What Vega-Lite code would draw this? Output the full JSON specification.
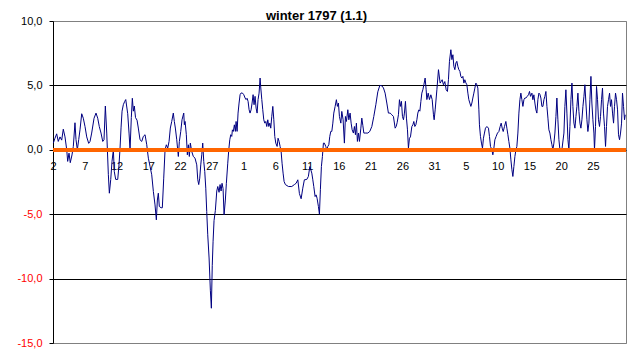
{
  "$schema": "https://vega.github.io/schema/vega-lite/v6.json",
  "width": 573,
  "height": 322,
  "autosize": {"type": "none"},
  "padding": {"left": 53, "top": 21, "right": 15, "bottom": 17},
  "background": "white",
  "config": {"font": "Liberation Sans", "view": {"stroke": "#808080", "strokeWidth": 1}},
  "title": {"text": "winter 1797 (1.1)", "fontSize": 13, "fontWeight": "bold", "font": "Liberation Sans", "color": "black", "anchor": "middle", "frame": "group", "offset": -18, "baseline": "alphabetic", "dx": -23},
  "data": {"values": [
    {"day":0.05,"temp":0.52},{"day":0.31,"temp":0.9},{"day":0.58,"temp":1.24},{"day":0.83,"temp":0.65},{"day":1.10,"temp":1.0},{"day":1.37,"temp":0.75},{"day":1.62,"temp":1.6},{"day":1.89,"temp":1.0},{"day":2.16,"temp":0},{"day":2.31,"temp":-0.9},{"day":2.52,"temp":-0.26},{"day":2.72,"temp":-1.0},{"day":2.99,"temp":-0.4},{"day":3.20,"temp":0.26},{"day":3.46,"temp":2.1},{"day":3.62,"temp":0.8},{"day":3.83,"temp":0},{"day":4.05,"temp":0.8},{"day":4.25,"temp":1.55},{"day":4.52,"temp":2.8},{"day":4.77,"temp":2.45},{"day":5.04,"temp":1.8},{"day":5.31,"temp":1.0},{"day":5.62,"temp":0.5},{"day":5.83,"temp":0.65},{"day":6.09,"temp":1.3},{"day":6.46,"temp":2.45},{"day":6.77,"temp":2.85},{"day":7.04,"temp":2.45},{"day":7.29,"temp":1.8},{"day":7.56,"temp":1.3},{"day":7.83,"temp":0.65},{"day":8.03,"temp":0.78},{"day":8.24,"temp":3.4},{"day":8.46,"temp":1.3},{"day":8.55,"temp":0.13},{"day":8.71,"temp":-1.9},{"day":8.87,"temp":-3.37},{"day":9.09,"temp":-2.3},{"day":9.29,"temp":-0.9},{"day":9.50,"temp":0},{"day":9.65,"temp":-1.7},{"day":9.87,"temp":-2.3},{"day":10.19,"temp":-2.3},{"day":10.39,"temp":-1.17},{"day":10.55,"temp":0.1},{"day":10.71,"temp":1.7},{"day":10.87,"temp":3.0},{"day":11.07,"temp":3.5},{"day":11.29,"temp":3.76},{"day":11.45,"temp":3.9},{"day":11.76,"temp":2.8},{"day":11.97,"temp":1.3},{"day":12.13,"temp":0},{"day":12.33,"temp":2.5},{"day":12.49,"temp":4.0},{"day":12.65,"temp":3.0},{"day":12.80,"temp":3.4},{"day":12.99,"temp":2.5},{"day":13.23,"temp":2.3},{"day":13.43,"temp":1.69},{"day":13.70,"temp":0.78},{"day":13.97,"temp":0.65},{"day":14.22,"temp":1.04},{"day":14.49,"temp":1.17},{"day":14.76,"temp":0.39},{"day":14.85,"temp":0},{"day":15.01,"temp":-0.65},{"day":15.28,"temp":-1.3},{"day":15.54,"temp":-1.94},{"day":15.80,"temp":-3.24},{"day":16.06,"temp":-4.28},{"day":16.27,"temp":-5.44},{"day":16.43,"temp":-3.9},{"day":16.58,"temp":-3.37},{"day":16.74,"temp":-4.4},{"day":17.01,"temp":-4.5},{"day":17.21,"temp":-4.5},{"day":17.43,"temp":-2.2},{"day":17.64,"temp":0},{"day":17.84,"temp":0.39},{"day":18.06,"temp":0.13},{"day":18.27,"temp":0.65},{"day":18.47,"temp":1.69},{"day":18.69,"temp":2.2},{"day":18.94,"temp":2.85},{"day":19.10,"temp":2.2},{"day":19.26,"temp":1.69},{"day":19.48,"temp":0.78},{"day":19.73,"temp":-0.52},{"day":19.89,"temp":0.65},{"day":20.11,"temp":1.43},{"day":20.31,"temp":2.33},{"day":20.58,"temp":2.85},{"day":20.68,"temp":1.95},{"day":20.79,"temp":2.2},{"day":20.99,"temp":1.17},{"day":21.15,"temp":-0.39},{"day":21.31,"temp":0.39},{"day":21.46,"temp":-0.52},{"day":21.62,"temp":0.52},{"day":21.84,"temp":-0.13},{"day":22.09,"temp":-0.52},{"day":22.36,"temp":-0.65},{"day":22.63,"temp":-1.17},{"day":22.79,"temp":-2.33},{"day":22.94,"temp":-2.7},{"day":23.10,"temp":-2.2},{"day":23.26,"temp":-1.17},{"day":23.42,"temp":-0.39},{"day":23.57,"temp":0.52},{"day":23.73,"temp":-0.9},{"day":23.89,"temp":-1.69},{"day":24.05,"temp":-2.98},{"day":24.20,"temp":-4.8},{"day":24.36,"temp":-6.6},{"day":24.57,"temp":-8.4},{"day":24.77,"temp":-10.9},{"day":24.93,"temp":-12.3},{"day":25.07,"temp":-9.0},{"day":25.20,"temp":-7.1},{"day":25.35,"temp":-5.5},{"day":25.56,"temp":-4.7},{"day":25.78,"temp":-3.2},{"day":25.94,"temp":-2.85},{"day":26.14,"temp":-3.3},{"day":26.30,"temp":-2.7},{"day":26.46,"temp":-3.2},{"day":26.61,"temp":-2.6},{"day":26.77,"temp":-3.0},{"day":26.93,"temp":-5.05},{"day":27.13,"temp":-3.9},{"day":27.29,"temp":-2.6},{"day":27.51,"temp":-1.04},{"day":27.67,"temp":0},{"day":27.83,"temp":0.78},{"day":27.98,"temp":1.17},{"day":28.14,"temp":1.04},{"day":28.24,"temp":1.55},{"day":28.39,"temp":1.43},{"day":28.55,"temp":1.94},{"day":28.71,"temp":1.43},{"day":28.82,"temp":2.2},{"day":28.98,"temp":1.43},{"day":29.13,"temp":2.85},{"day":29.29,"temp":3.63},{"day":29.45,"temp":4.28},{"day":29.61,"temp":4.41},{"day":29.81,"temp":4.41},{"day":30.03,"temp":4.28},{"day":30.24,"temp":4.02},{"day":30.39,"temp":3.9},{"day":30.55,"temp":4.0},{"day":30.71,"temp":3.76},{"day":30.87,"temp":3.11},{"day":31.02,"temp":2.85},{"day":31.18,"temp":3.1},{"day":31.34,"temp":3.63},{"day":31.50,"temp":4.28},{"day":31.65,"temp":3.5},{"day":31.81,"temp":4.15},{"day":31.97,"temp":3.24},{"day":32.13,"temp":2.85},{"day":32.28,"temp":3.9},{"day":32.44,"temp":4.4},{"day":32.60,"temp":5.57},{"day":32.71,"temp":4.8},{"day":32.87,"temp":3.9},{"day":33.02,"temp":3.11},{"day":33.18,"temp":2.33},{"day":33.34,"temp":2.07},{"day":33.50,"temp":2.2},{"day":33.65,"temp":1.81},{"day":33.81,"temp":2.33},{"day":33.97,"temp":1.81},{"day":34.13,"temp":2.07},{"day":34.28,"temp":1.68},{"day":34.44,"temp":2.6},{"day":34.60,"temp":3.37},{"day":34.76,"temp":2.33},{"day":34.91,"temp":1.04},{"day":35.07,"temp":0.52},{"day":35.28,"temp":0.26},{"day":35.43,"temp":0.9},{"day":35.59,"temp":0.65},{"day":35.75,"temp":0.26},{"day":35.91,"temp":-0.13},{"day":36.06,"temp":-1.04},{"day":36.22,"temp":-1.81},{"day":36.38,"temp":-2.46},{"day":36.58,"temp":-2.7},{"day":37.06,"temp":-2.85},{"day":37.59,"temp":-2.85},{"day":38.00,"temp":-2.7},{"day":38.27,"temp":-2.6},{"day":38.54,"temp":-2.33},{"day":38.79,"temp":-3.4},{"day":39.06,"temp":-3.8},{"day":39.32,"temp":-2.98},{"day":39.57,"temp":-2.33},{"day":39.95,"temp":-2.3},{"day":40.20,"temp":-2.07},{"day":40.43,"temp":-1.3},{"day":40.58,"temp":-1.55},{"day":40.74,"temp":-1.81},{"day":40.90,"temp":-2.33},{"day":41.05,"temp":-2.85},{"day":41.26,"temp":-3.63},{"day":41.42,"temp":-3.5},{"day":41.57,"temp":-3.76},{"day":41.78,"temp":-4.4},{"day":41.94,"temp":-5.0},{"day":42.09,"temp":-3.1},{"day":42.25,"temp":-1.3},{"day":42.41,"temp":-0.52},{"day":42.57,"temp":0.52},{"day":42.72,"temp":0.52},{"day":42.94,"temp":0.26},{"day":43.10,"temp":0},{"day":43.26,"temp":0.26},{"day":43.42,"temp":0.39},{"day":43.57,"temp":1.04},{"day":43.73,"temp":1.43},{"day":43.89,"temp":1.43},{"day":44.05,"temp":2.07},{"day":44.20,"temp":2.85},{"day":44.41,"temp":3.37},{"day":44.61,"temp":3.89},{"day":44.77,"temp":3.37},{"day":44.93,"temp":3.63},{"day":45.09,"temp":2.59},{"day":45.31,"temp":2.07},{"day":45.46,"temp":2.98},{"day":45.67,"temp":2.33},{"day":45.87,"temp":0.52},{"day":46.03,"temp":2.59},{"day":46.19,"temp":2.2},{"day":46.41,"temp":3.11},{"day":46.57,"temp":2.33},{"day":46.77,"temp":2.85},{"day":46.93,"temp":2.07},{"day":47.09,"temp":1.55},{"day":47.29,"temp":1.3},{"day":47.45,"temp":1.81},{"day":47.61,"temp":1.17},{"day":47.76,"temp":2.07},{"day":47.92,"temp":0.65},{"day":48.08,"temp":1.3},{"day":48.24,"temp":0.65},{"day":48.46,"temp":1.68},{"day":48.61,"temp":2.46},{"day":48.77,"temp":1.9},{"day":48.93,"temp":1.3},{"day":49.24,"temp":1.3},{"day":49.56,"temp":1.3},{"day":49.87,"temp":1.43},{"day":50.19,"temp":1.81},{"day":50.50,"temp":2.59},{"day":50.82,"temp":3.5},{"day":51.13,"temp":4.5},{"day":51.45,"temp":5.0},{"day":51.76,"temp":4.97},{"day":52.02,"temp":4.8},{"day":52.28,"temp":4.4},{"day":52.55,"temp":3.63},{"day":52.80,"temp":2.85},{"day":53.07,"temp":2.85},{"day":53.34,"temp":2.72},{"day":53.59,"temp":2.59},{"day":53.86,"temp":1.68},{"day":54.02,"temp":1.81},{"day":54.17,"temp":2.1},{"day":54.38,"temp":2.72},{"day":54.54,"temp":3.89},{"day":54.69,"temp":3.37},{"day":54.85,"temp":3.76},{"day":55.01,"temp":2.59},{"day":55.17,"temp":2.33},{"day":55.32,"temp":2.85},{"day":55.48,"temp":3.76},{"day":55.64,"temp":2.46},{"day":55.80,"temp":1.55},{"day":55.95,"temp":0.13},{"day":56.11,"temp":0.9},{"day":56.27,"temp":1.0},{"day":56.49,"temp":1.81},{"day":56.65,"temp":1.94},{"day":56.80,"temp":2.2},{"day":56.96,"temp":1.81},{"day":57.12,"temp":1.94},{"day":57.28,"temp":2.33},{"day":57.43,"temp":2.85},{"day":57.59,"temp":3.1},{"day":57.75,"temp":3.0},{"day":57.91,"temp":3.76},{"day":58.06,"temp":4.4},{"day":58.22,"temp":4.66},{"day":58.38,"temp":5.05},{"day":58.58,"temp":5.57},{"day":58.74,"temp":4.66},{"day":58.85,"temp":3.9},{"day":59.06,"temp":4.4},{"day":59.26,"temp":3.9},{"day":59.48,"temp":4.27},{"day":59.69,"temp":3.9},{"day":59.89,"temp":2.72},{"day":60.00,"temp":2.33},{"day":60.16,"temp":3.1},{"day":60.43,"temp":4.66},{"day":60.68,"temp":6.22},{"day":60.94,"temp":5.18},{"day":61.10,"temp":5.3},{"day":61.26,"temp":5.44},{"day":61.46,"temp":5.05},{"day":61.68,"temp":5.3},{"day":61.89,"temp":4.66},{"day":62.09,"temp":4.53},{"day":62.25,"temp":5.44},{"day":62.41,"temp":6.87},{"day":62.63,"temp":7.77},{"day":62.79,"temp":7.0},{"day":62.95,"temp":7.38},{"day":63.10,"temp":6.48},{"day":63.26,"temp":6.22},{"day":63.42,"temp":6.74},{"day":63.57,"temp":6.87},{"day":63.73,"temp":6.48},{"day":63.89,"temp":6.22},{"day":64.05,"temp":6.09},{"day":64.20,"temp":5.7},{"day":64.36,"temp":5.57},{"day":64.52,"temp":5.7},{"day":64.68,"temp":5.18},{"day":64.83,"temp":5.44},{"day":64.99,"temp":5.2},{"day":65.15,"temp":5.05},{"day":65.31,"temp":4.4},{"day":65.46,"temp":3.89},{"day":65.62,"temp":3.63},{"day":65.78,"temp":3.37},{"day":65.94,"temp":3.63},{"day":66.09,"temp":4.02},{"day":66.25,"temp":4.4},{"day":66.41,"temp":4.79},{"day":66.57,"temp":5.18},{"day":66.72,"temp":5.05},{"day":66.88,"temp":4.79},{"day":67.04,"temp":3.1},{"day":67.13,"temp":1.94},{"day":67.29,"temp":1.04},{"day":67.45,"temp":0.52},{"day":67.61,"temp":0.13},{"day":67.76,"temp":0.9},{"day":67.92,"temp":1.3},{"day":68.08,"temp":1.68},{"day":68.30,"temp":1.81},{"day":68.55,"temp":1.68},{"day":68.71,"temp":1.04},{"day":68.87,"temp":0.26},{"day":69.09,"temp":0},{"day":69.24,"temp":-0.39},{"day":69.40,"temp":0.13},{"day":69.56,"temp":0.78},{"day":69.76,"temp":1.04},{"day":69.97,"temp":1.3},{"day":70.19,"temp":1.42},{"day":70.39,"temp":1.81},{"day":70.55,"temp":2.07},{"day":70.71,"temp":1.68},{"day":70.87,"temp":1.42},{"day":71.07,"temp":1.81},{"day":71.29,"temp":2.2},{"day":71.45,"temp":1.68},{"day":71.61,"temp":1.17},{"day":71.76,"temp":0.65},{"day":71.92,"temp":0.13},{"day":72.08,"temp":-0.78},{"day":72.24,"temp":-1.55},{"day":72.39,"temp":-2.07},{"day":72.55,"temp":-1.3},{"day":72.71,"temp":-0.52},{"day":72.87,"temp":0},{"day":73.02,"temp":0.26},{"day":73.18,"temp":1.3},{"day":73.34,"temp":2.85},{"day":73.50,"temp":3.89},{"day":73.65,"temp":4.4},{"day":73.81,"temp":3.89},{"day":73.97,"temp":3.37},{"day":74.13,"temp":3.89},{"day":74.28,"temp":4.02},{"day":74.44,"temp":4.02},{"day":74.65,"temp":4.15},{"day":74.85,"temp":4.27},{"day":75.01,"temp":4.53},{"day":75.17,"temp":4.15},{"day":75.39,"temp":4.4},{"day":75.54,"temp":3.89},{"day":75.70,"temp":4.27},{"day":75.86,"temp":3.63},{"day":76.02,"temp":3.1},{"day":76.17,"temp":2.85},{"day":76.33,"temp":3.89},{"day":76.49,"temp":4.4},{"day":76.65,"temp":4.3},{"day":76.80,"temp":4.02},{"day":76.96,"temp":3.37},{"day":77.12,"temp":3.37},{"day":77.28,"temp":3.89},{"day":77.43,"temp":4.15},{"day":77.59,"temp":4.53},{"day":77.75,"temp":3.37},{"day":77.91,"temp":2.46},{"day":78.06,"temp":1.55},{"day":78.22,"temp":1.3},{"day":78.38,"temp":0.78},{"day":78.54,"temp":0.39},{"day":78.69,"temp":0},{"day":78.85,"temp":0.52},{"day":79.01,"temp":1.3},{"day":79.17,"temp":2.59},{"day":79.32,"temp":4.02},{"day":79.48,"temp":2.33},{"day":79.64,"temp":0.78},{"day":79.80,"temp":0},{"day":80.11,"temp":0},{"day":80.43,"temp":1.3},{"day":80.58,"temp":3.37},{"day":80.74,"temp":4.66},{"day":80.90,"temp":2.85},{"day":81.06,"temp":0.78},{"day":81.21,"temp":0},{"day":81.37,"temp":1.81},{"day":81.53,"temp":3.89},{"day":81.69,"temp":5.18},{"day":81.84,"temp":3.37},{"day":82.00,"temp":2.07},{"day":82.16,"temp":1.68},{"day":82.32,"temp":2.59},{"day":82.47,"temp":3.37},{"day":82.63,"temp":4.4},{"day":82.79,"temp":2.98},{"day":82.95,"temp":2.07},{"day":83.10,"temp":1.68},{"day":83.26,"temp":2.33},{"day":83.42,"temp":3.37},{"day":83.58,"temp":4.15},{"day":83.73,"temp":5.05},{"day":83.89,"temp":3.63},{"day":84.05,"temp":2.33},{"day":84.20,"temp":1.42},{"day":84.36,"temp":2.07},{"day":84.52,"temp":3.89},{"day":84.68,"temp":5.7},{"day":84.83,"temp":3.63},{"day":84.99,"temp":2.33},{"day":85.15,"temp":1.3},{"day":85.24,"temp":0},{"day":85.40,"temp":1.81},{"day":85.56,"temp":4.92},{"day":85.72,"temp":3.89},{"day":85.87,"temp":2.33},{"day":86.03,"temp":1.81},{"day":86.19,"temp":2.59},{"day":86.35,"temp":3.89},{"day":86.50,"temp":4.79},{"day":86.66,"temp":2.85},{"day":86.82,"temp":1.81},{"day":86.98,"temp":0.26},{"day":87.13,"temp":1.81},{"day":87.29,"temp":3.37},{"day":87.45,"temp":3.89},{"day":87.61,"temp":4.4},{"day":87.76,"temp":3.37},{"day":87.92,"temp":3.89},{"day":88.08,"temp":2.85},{"day":88.24,"temp":2.07},{"day":88.39,"temp":3.37},{"day":88.55,"temp":4.4},{"day":88.71,"temp":3.89},{"day":88.87,"temp":3.1},{"day":89.02,"temp":1.17},{"day":89.18,"temp":0.78},{"day":89.34,"temp":1.3},{"day":89.50,"temp":2.07},{"day":89.65,"temp":4.4},{"day":89.81,"temp":3.37},{"day":89.97,"temp":2.33},{"day":90.08,"temp":2.72}
  ]},
  "layer": [
    {
      "mark": {"type": "line", "color": "#000080", "strokeWidth": 1},
      "encoding": {
        "x": {
          "field": "day", "type": "quantitative",
          "scale": {"domain": [0, 90.2], "nice": false, "zero": false},
          "axis": {
            "title": null,
            "values": [0, 5, 10, 15, 20, 25, 30, 35, 40, 45, 50, 55, 60, 65, 70, 75, 80, 85],
            "labelExpr": "utcdate(utc(1797, 11, 2 + datum.value))",
            "offset": -193.5,
            "domain": false,
            "ticks": false,
            "grid": false,
            "labelPadding": 11,
            "labelFontSize": 11,
            "labelFont": "Liberation Sans",
            "labelColor": "black",
            "labelFlush": false,
            "labelOverlap": false
          }
        },
        "y": {
          "field": "temp", "type": "quantitative",
          "scale": {"domain": [-15, 10], "nice": false, "zero": false},
          "axis": {
            "title": null,
            "values": [-15, -10, -5, 0, 5, 10],
            "labelExpr": "(datum.value < 0 ? '-' : '') + abs(datum.value) + ',0'",
            "grid": true,
            "gridColor": {"condition": {"test": "datum.value == 10 || datum.value == -15", "value": "#808080"}, "value": "black"},
            "gridWidth": 1,
            "gridOpacity": 1,
            "domainColor": "black",
            "domainWidth": 1,
            "tickColor": "black",
            "tickSize": 4,
            "labelPadding": 7,
            "labelFontSize": 11,
            "labelFont": "Liberation Sans",
            "labelColor": {"condition": {"test": "datum.value < 0", "value": "#FF0000"}, "value": "black"}
          }
        }
      }
    },
    {
      "mark": {"type": "rule", "color": "#FF6600", "strokeWidth": 3},
      "encoding": {"y": {"datum": 0}}
    }
  ]
}
